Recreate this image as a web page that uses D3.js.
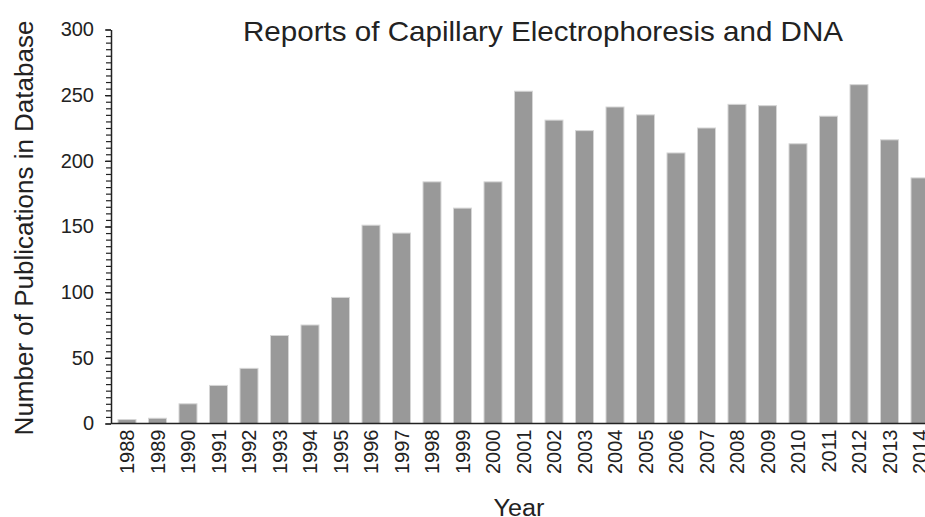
<!DOCTYPE html>
<html>
<head>
<meta charset="utf-8">
<script src="https://cdn.jsdelivr.net/npm/d3@7"></script>
<style>
  body { margin: 0; background: #fff; }
  text { font-family: "Liberation Sans", Arial, sans-serif; fill: #222; }
</style>
</head>
<body>
<div id="chart"></div>
<script>
// data
const years = [1988, 1989, 1990, 1991, 1992, 1993, 1994, 1995, 1996, 1997, 1998, 1999, 2000,
               2001, 2002, 2003, 2004, 2005, 2006, 2007, 2008, 2009, 2010, 2011, 2012, 2013, 2014];
const counts = [3, 4, 15, 29, 42, 67, 75, 96, 151, 145, 184, 164, 184,
                253, 231, 223, 241, 235, 206, 225, 243, 242, 213, 234, 258, 216, 187];
const majorTicks = [0, 50, 100, 150, 200, 250, 300];

const width = 925, height = 517;

const svg = d3.select("#chart")
    .append("svg")
    .attr("width", width)
    .attr("height", height);

/* scales */
const x = d3.scaleLinear().domain([1988, 2014]).range([127, 920]);
const y = d3.scaleLinear().domain([0, 300]).range([423.5, 29.5]);
const barW = 18;
const axisX = 111;

// bars
svg.append("g")
    .selectAll("rect")
    .data(years)
    .join("rect")
    .attr("x", d => x(d) - barW / 2)
    .attr("y", (d, i) => y(counts[i]))
    .attr("width", barW)
    .attr("height", (d, i) => y(0) - y(counts[i]))
    .attr("fill", "#999")
    .attr("stroke", "#d6d6d6")
    .attr("stroke-width", 1);

// minor y ticks every 5
svg.append("g")
    .attr("transform", `translate(${axisX},0)`)
    .call(d3.axisLeft(y).tickValues(d3.range(0, 301, 5)).tickSize(5).tickFormat(""))
    .call(g => g.select(".domain").remove())
    .selectAll("line").attr("stroke", "#222").attr("stroke-width", 1.2);

// major y axis
const yAxis = svg.append("g")
    .attr("transform", `translate(${axisX},0)`)
    .call(d3.axisLeft(y).tickValues(majorTicks).tickSize(6).tickSizeOuter(0).tickPadding(11));
yAxis.select(".domain").attr("stroke", "#222").attr("stroke-width", 1.5);
yAxis.selectAll("line").attr("stroke", "#222").attr("stroke-width", 1.3);
yAxis.selectAll("text")
    .style("font-family", "'Liberation Sans', Arial, sans-serif")
    .style("font-size", "20px")
    .attr("fill", "#222");

// x baseline
svg.append("line")
    .attr("x1", axisX).attr("x2", width)
    .attr("y1", y(0)).attr("y2", y(0))
    .attr("stroke", "#222")
    .attr("stroke-width", 1.5);

// year labels, rotated
svg.append("g")
    .selectAll("text")
    .data(years)
    .join("text")
    .attr("transform", d => `translate(${x(d) + 7},${y(0) + 6}) rotate(-90)`)
    .attr("text-anchor", "end")
    .style("font-size", "20px")
    .text(d => d);

// title
svg.append("text")
    .attr("x", 543)
    .attr("y", 41)
    .attr("text-anchor", "middle")
    .attr("textLength", 600)
    .attr("lengthAdjust", "spacingAndGlyphs")
    .style("font-size", "28px")
    .text("Reports of Capillary Electrophoresis and DNA");

// axis titles
svg.append("text")
    .attr("transform", "translate(33,228) rotate(-90)")
    .attr("text-anchor", "middle")
    .style("font-size", "26px")
    .text("Number of Publications in Database");

svg.append("text")
    .attr("x", 519)
    .attr("y", 516)
    .attr("text-anchor", "middle")
    .attr("textLength", 51)
    .attr("lengthAdjust", "spacingAndGlyphs")
    .style("font-size", "23px")
    .text("Year");
</script>
</body>
</html>
